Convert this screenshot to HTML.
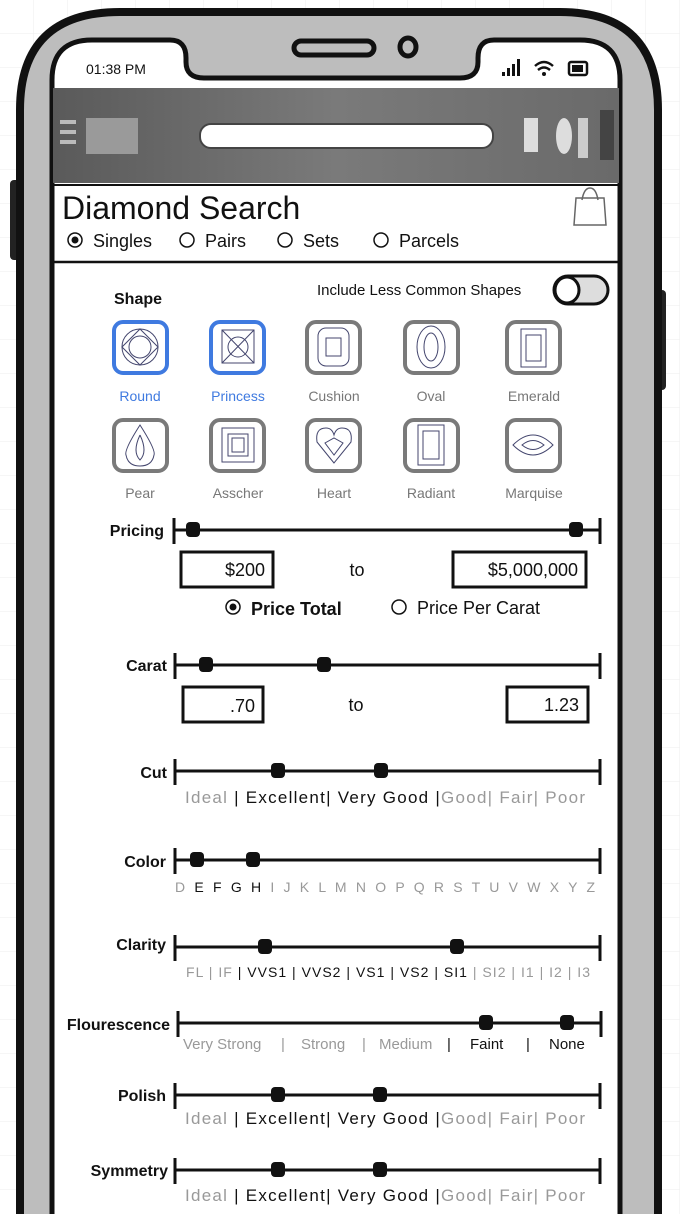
<!DOCTYPE html>
<html><head><meta charset="utf-8"><style>
html,body{margin:0;padding:0;background:#fff}
svg{display:block}
text{font-family:"Liberation Sans",sans-serif}
</style></head><body>
<svg width="680" height="1214" viewBox="0 0 680 1214" xmlns="http://www.w3.org/2000/svg">
<defs>
<pattern id="g" width="34" height="34" patternUnits="userSpaceOnUse"><path d="M34 0V34H0" fill="none" stroke="#eee" stroke-width="1"/></pattern>
<linearGradient id="hd" x1="0" x2="1"><stop offset="0" stop-color="#5a5a5a"/><stop offset=".5" stop-color="#7a7a7a"/><stop offset="1" stop-color="#6a6a6a"/></linearGradient>
</defs>
<rect width="680" height="1214" fill="url(#g)"/>
<rect x="10" y="180" width="12" height="80" rx="4" fill="#222"/>
<rect x="656" y="290" width="10" height="100" rx="4" fill="#222"/>
<path d="M20 1230 V110 Q20 12 120 12 H560 Q658 12 658 110 V1230 Z" fill="#bdbdbd" stroke="#111" stroke-width="8"/>
<path d="M52 1230 V80 Q52 40 92 40 H170 Q186 40 186 58 V62 Q186 78 204 78 H460 Q478 78 478 62 V58 Q478 40 494 40 H580 Q620 40 620 80 V1230 Z" fill="#fff" stroke="#111" stroke-width="5"/>
<rect x="294" y="41" width="80" height="14" rx="7" fill="none" stroke="#111" stroke-width="5"/>
<ellipse cx="408" cy="47" rx="8" ry="9" fill="none" stroke="#111" stroke-width="5"/>
<text x="86" y="74" font-size="14" fill="#111">01:38 PM</text>
<g fill="#111"><rect x="502" y="72" width="3" height="4"/><rect x="507" y="68" width="3" height="8"/><rect x="512" y="64" width="3" height="12"/><rect x="517" y="59" width="3" height="17"/></g>
<path d="M535 66 Q544 58 553 66 M538 70 Q544 65 550 70" fill="none" stroke="#111" stroke-width="2.5"/><circle cx="544" cy="74" r="2" fill="#111"/>
<rect x="569" y="62" width="18" height="13" rx="2" fill="none" stroke="#111" stroke-width="2.5"/><rect x="572" y="65" width="11" height="7" fill="#111"/>
<rect x="53" y="88" width="566" height="95" fill="url(#hd)"/>
<rect x="60" y="120" width="16" height="4" fill="#bbb"/><rect x="60" y="130" width="16" height="4" fill="#bbb"/><rect x="60" y="140" width="16" height="4" fill="#bbb"/>
<rect x="86" y="118" width="52" height="36" fill="#9a9a9a"/>
<rect x="200" y="124" width="293" height="24" rx="11" fill="#fff" stroke="#444" stroke-width="2"/>
<rect x="524" y="118" width="14" height="34" fill="#ddd"/><ellipse cx="564" cy="136" rx="8" ry="18" fill="#ddd"/><rect x="578" y="118" width="10" height="40" fill="#ccc"/><rect x="600" y="110" width="14" height="50" fill="#444"/>
<line x1="53" y1="185" x2="619" y2="185" stroke="#111" stroke-width="2"/>
<text x="62" y="219" font-size="32" fill="#111">Diamond Search</text>
<path d="M574 225 L576 198 H604 L606 225 Z M582 200 Q584 188 590 188 Q596 188 598 200" fill="none" stroke="#666" stroke-width="1.5"/>
<g font-size="18" fill="#111">
<circle cx="75" cy="240" r="7" fill="none" stroke="#111" stroke-width="1.5"/><circle cx="75" cy="240" r="3.5" fill="#111"/><text x="93" y="247">Singles</text>
<circle cx="187" cy="240" r="7" fill="none" stroke="#111" stroke-width="1.5"/><text x="205" y="247">Pairs</text>
<circle cx="285" cy="240" r="7" fill="none" stroke="#111" stroke-width="1.5"/><text x="303" y="247">Sets</text>
<circle cx="381" cy="240" r="7" fill="none" stroke="#111" stroke-width="1.5"/><text x="399" y="247">Parcels</text>
</g>
<line x1="53" y1="262" x2="619" y2="262" stroke="#111" stroke-width="2.5"/>
<text x="114" y="304" font-size="16" font-weight="bold" fill="#111">Shape</text>
<text x="317" y="295" font-size="15" fill="#111">Include Less Common Shapes</text>
<rect x="554" y="276" width="54" height="28" rx="14" fill="#ddd" stroke="#111" stroke-width="3"/><ellipse cx="567" cy="290" rx="12" ry="13" fill="#fff" stroke="#111" stroke-width="3"/>
<g stroke-width="4" fill="#fff">
<rect x="114" y="322" width="53" height="51" rx="9" stroke="#3f7ae0"/>
<rect x="211" y="322" width="53" height="51" rx="9" stroke="#3f7ae0"/>
<rect x="307" y="322" width="53" height="51" rx="9" stroke="#7a7a7a"/>
<rect x="405" y="322" width="53" height="51" rx="9" stroke="#7a7a7a"/>
<rect x="507" y="322" width="53" height="51" rx="9" stroke="#7a7a7a"/>
<rect x="114" y="420" width="53" height="51" rx="9" stroke="#7a7a7a"/>
<rect x="211" y="420" width="53" height="51" rx="9" stroke="#7a7a7a"/>
<rect x="307" y="420" width="53" height="51" rx="9" stroke="#7a7a7a"/>
<rect x="405" y="420" width="53" height="51" rx="9" stroke="#7a7a7a"/>
<rect x="507" y="420" width="53" height="51" rx="9" stroke="#7a7a7a"/>
</g>
<g fill="none" stroke="#44466e" stroke-width="1">
<circle cx="140" cy="347" r="18"/><circle cx="140" cy="347" r="11"/><path d="M122 347 L140 329 L158 347 L140 365 Z"/>
<rect x="222" y="330" width="32" height="33"/><path d="M222 330 L254 363 M254 330 L222 363"/><circle cx="238" cy="347" r="10"/>
<rect x="318" y="328" width="31" height="38" rx="8"/><rect x="326" y="338" width="15" height="18"/>
<ellipse cx="431" cy="347" rx="14" ry="21"/><ellipse cx="431" cy="347" rx="7" ry="14"/>
<rect x="521" y="329" width="25" height="38"/><rect x="526" y="335" width="15" height="26"/>
<path d="M140 425 Q156 450 154 455 Q152 466 140 466 Q128 466 126 455 Q124 450 140 425 Z"/><path d="M140 435 Q148 452 140 460 Q132 452 140 435"/>
<rect x="222" y="428" width="32" height="34"/><rect x="228" y="434" width="20" height="22"/><rect x="232" y="438" width="12" height="14"/>
<path d="M334 463 L317 442 Q315 428 326 428 Q332 428 334 435 Q336 428 342 428 Q353 428 351 442 Z"/><path d="M334 455 L325 443 L334 438 L343 443 Z"/>
<rect x="418" y="425" width="26" height="40"/><rect x="423" y="431" width="16" height="28"/>
<path d="M513 445 Q533 425 553 445 Q533 465 513 445 Z"/><path d="M522 445 Q533 436 544 445 Q533 454 522 445 Z"/>
</g>
<g font-size="14" text-anchor="middle">
<text x="140" y="401" fill="#3f7ae0">Round</text><text x="238" y="401" fill="#3f7ae0">Princess</text>
<text x="334" y="401" fill="#777">Cushion</text><text x="431" y="401" fill="#777">Oval</text><text x="534" y="401" fill="#777">Emerald</text>
<text x="140" y="498" fill="#777">Pear</text><text x="238" y="498" fill="#777">Asscher</text><text x="334" y="498" fill="#777">Heart</text><text x="431" y="498" fill="#777">Radiant</text><text x="534" y="498" fill="#777">Marquise</text>
</g>
<g stroke="#111" stroke-width="3" fill="none">
<path d="M173 530 H600 M174 518 V544 M600 518 V544"/>
<path d="M174 665 H600 M175 653 V679 M600 653 V679"/>
<path d="M174 771 H600 M175 759 V785 M600 759 V785"/>
<path d="M174 860 H600 M175 848 V874 M600 848 V874"/>
<path d="M174 947 H600 M175 935 V961 M600 935 V961"/>
<path d="M177 1023 H600 M178 1011 V1037 M601 1011 V1037"/>
<path d="M174 1095 H600 M175 1083 V1109 M600 1083 V1109"/>
<path d="M174 1170 H600 M175 1158 V1184 M600 1158 V1184"/>
</g>
<g fill="#111">
<rect x="186" y="522" width="14" height="15" rx="4"/><rect x="569" y="522" width="14" height="15" rx="4"/>
<rect x="199" y="657" width="14" height="15" rx="4"/><rect x="317" y="657" width="14" height="15" rx="4"/>
<rect x="271" y="763" width="14" height="15" rx="4"/><rect x="374" y="763" width="14" height="15" rx="4"/>
<rect x="190" y="852" width="14" height="15" rx="4"/><rect x="246" y="852" width="14" height="15" rx="4"/>
<rect x="258" y="939" width="14" height="15" rx="4"/><rect x="450" y="939" width="14" height="15" rx="4"/>
<rect x="479" y="1015" width="14" height="15" rx="4"/><rect x="560" y="1015" width="14" height="15" rx="4"/>
<rect x="271" y="1087" width="14" height="15" rx="4"/><rect x="373" y="1087" width="14" height="15" rx="4"/>
<rect x="271" y="1162" width="14" height="15" rx="4"/><rect x="373" y="1162" width="14" height="15" rx="4"/>
</g>
<g font-size="16" font-weight="bold" fill="#111" text-anchor="end">
<text x="164" y="536">Pricing</text><text x="167" y="671">Carat</text><text x="167" y="778">Cut</text><text x="166" y="867">Color</text>
<text x="166" y="950">Clarity</text><text x="170" y="1030">Flourescence</text><text x="166" y="1101">Polish</text><text x="168" y="1176">Symmetry</text>
</g>
<g stroke="#111" stroke-width="3" fill="#fff">
<rect x="181" y="552" width="92" height="35"/><rect x="453" y="552" width="133" height="35"/>
<rect x="183" y="687" width="80" height="35"/><rect x="507" y="687" width="81" height="35"/>
</g>
<g font-size="18" fill="#111">
<text x="265" y="576" text-anchor="end">$200</text><text x="578" y="576" text-anchor="end">$5,000,000</text>
<text x="357" y="576" text-anchor="middle">to</text>
<text x="255" y="712" text-anchor="end">.70</text><text x="579" y="711" text-anchor="end">1.23</text>
<text x="356" y="711" text-anchor="middle">to</text>
<circle cx="233" cy="607" r="7" fill="none" stroke="#111" stroke-width="1.5"/><circle cx="233" cy="607" r="3.5"/>
<text x="251" y="615" font-weight="bold">Price Total</text>
<circle cx="399" cy="607" r="7" fill="none" stroke="#111" stroke-width="1.5"/>
<text x="417" y="614">Price Per Carat</text>
</g>
<g font-size="17" fill="#999">
<text x="185" y="803" textLength="400" lengthAdjust="spacing">Ideal <tspan fill="#111">| Excellent| Very Good |</tspan>Good| Fair| Poor</text>
<text x="185" y="1124" textLength="400" lengthAdjust="spacing">Ideal <tspan fill="#111">| Excellent| Very Good |</tspan>Good| Fair| Poor</text>
<text x="185" y="1201" textLength="400" lengthAdjust="spacing">Ideal <tspan fill="#111">| Excellent| Very Good |</tspan>Good| Fair| Poor</text>
</g>
<text x="175" y="892" font-size="14" fill="#999" textLength="420" lengthAdjust="spacing">D <tspan fill="#111">E F G H</tspan> I J K L M N O P Q R S T U V W X Y Z</text>
<text x="186" y="977" font-size="14" fill="#999" textLength="404" lengthAdjust="spacing">FL | IF <tspan fill="#111">| VVS1 | VVS2 | VS1 | VS2 | SI1</tspan> | SI2 | I1 | I2 | I3</text>
<g font-size="15" fill="#999">
<text x="183" y="1049">Very Strong</text><text x="281" y="1049">|</text><text x="301" y="1049">Strong</text><text x="362" y="1049">|</text><text x="379" y="1049">Medium</text>
<text x="447" y="1049" fill="#111">|</text><text x="470" y="1049" fill="#111">Faint</text><text x="526" y="1049" fill="#111">|</text><text x="549" y="1049" fill="#111">None</text>
</g>
</svg>
</body></html>
